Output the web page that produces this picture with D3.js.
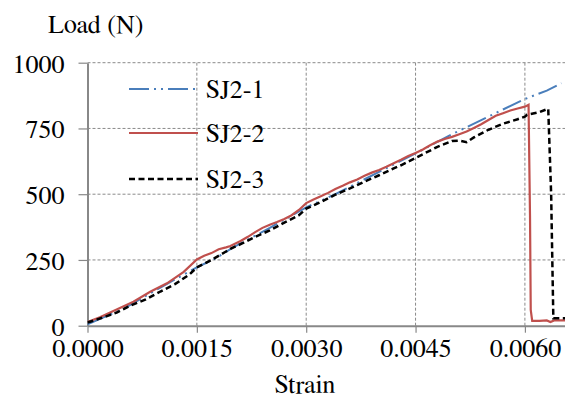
<!DOCTYPE html>
<html>
<head>
<meta charset="utf-8">
<script src="https://cdn.jsdelivr.net/npm/d3@7"></script>
<style>
  body { margin: 0; background: #fff; }
</style>
</head>
<body>
<svg id="chart" width="565" height="399"></svg>
<script>
// strain, load (N)
const sj21 = [[0,5],[0.0005,65],[0.0010,145],[0.0015,222],[0.00175,255],[0.0020,298],[0.0025,372],[0.0030,450],
  [0.0034,500],[0.0040,585],[0.0045,655],[0.0050,728],[0.0055,795],[0.0057,822],[0.0060,862],[0.0063,894],[0.0065,922]];
const sj22 = [[0,14],[0.00017,32],[0.0004,62],[0.00063,91],[0.00086,129],[0.00109,161],[0.00132,205],[0.0015,252],
  [0.0016,266],[0.0017,276],[0.0018,291],[0.0019,298],[0.00196,303],[0.0021,322],[0.0022,338],[0.0023,356],
  [0.0024,372],[0.0025,384],[0.0026,394],[0.0027,406],[0.0028,420],[0.0029,440],[0.0030,466],[0.0031,480],
  [0.0032,492],[0.0033,505],[0.0034,520],[0.0035,532],[0.0036,545],[0.0037,556],[0.0038,570],[0.0039,582],
  [0.0040,592],[0.0041,604],[0.0042,618],[0.0043,631],[0.0044,645],[0.0045,657],[0.0046,670],[0.0047,686],
  [0.0048,700],[0.0049,710],[0.0050,718],[0.0051,728],[0.0052,738],[0.0053,752],[0.0054,766],[0.0055,782],
  [0.0056,798],[0.0057,808],[0.0058,818],[0.0059,826],[0.0060,833],[0.00605,840],[0.00607,420],[0.00608,60],
  [0.0061,18],[0.0062,18],[0.0063,20],[0.00635,14],[0.0064,20],[0.0066,20]];
const sj23 = [[0,12],[0.0002,30],[0.0004,50],[0.0006,78],[0.0008,100],[0.0010,130],[0.0012,158],[0.0014,195],
  [0.0015,222],[0.0017,250],[0.0019,282],[0.00196,292],[0.0021,310],[0.0023,338],[0.0025,362],[0.0027,392],
  [0.0029,420],[0.0030,445],[0.0032,470],[0.0034,498],[0.0036,522],[0.0038,548],[0.0040,572],[0.0042,598],
  [0.0043,610],[0.0045,638],[0.0047,666],[0.0048,680],[0.0050,702],[0.0051,704],[0.0052,698],[0.0053,716],
  [0.0055,745],[0.0057,768],[0.0059,785],[0.0060,795],[0.00603,802],[0.0062,812],[0.00632,825],[0.00636,500],
  [0.00639,28],[0.0065,28],[0.0066,28]];

const xTicks = [0, 0.0015, 0.0030, 0.0045, 0.0060];
const yTicks = [0, 250, 500, 750, 1000];
const seriesNames = ['SJ2-1', 'SJ2-2', 'SJ2-3'];

// FreeSerif is the serif face that reliably resolves here
const fontFamily = 'FreeSerif, "Liberation Serif", serif';

const svg = d3.select('#chart');
const plotLeft = 87.5, plotRight = 565, plotTop = 62.7, plotBottom = 325.7;

const xScale = d3.scaleLinear().domain([0, 0.00655]).range([plotLeft, plotRight]);
const yScale = d3.scaleLinear().domain([0, 1000]).range([plotBottom, plotTop]);

// grid
svg.append('g').selectAll('line')
  .data(yTicks.filter(d => d > 0))
  .join('line')
  .attr('x1', plotLeft).attr('x2', plotRight)
  .attr('y1', d => yScale(d)).attr('y2', d => yScale(d))
  .attr('stroke', '#8a8a8a').attr('stroke-width', 1).attr('stroke-dasharray', '3,2');

svg.append('g').selectAll('line')
  .data(xTicks.filter(d => d > 0))
  .join('line')
  .attr('x1', d => xScale(d)).attr('x2', d => xScale(d))
  .attr('y1', plotTop).attr('y2', plotBottom)
  .attr('stroke', '#8a8a8a').attr('stroke-width', 1).attr('stroke-dasharray', '3,2');

// axes
const xAxis = d3.axisBottom(xScale).tickValues(xTicks).tickSize(7).tickSizeOuter(0)
  .tickFormat(d3.format('.4f'));
const yAxis = d3.axisLeft(yScale).tickValues(yTicks).tickSize(9).tickSizeOuter(0)
  .tickFormat(d3.format('d'));

const gx = svg.append('g').attr('transform', `translate(0,${plotBottom})`).call(xAxis);
const gy = svg.append('g').attr('transform', `translate(${plotLeft},0)`).call(yAxis);

[gx, gy].forEach(g => {
  g.attr('font-family', fontFamily).attr('font-size', 26);
  g.select('.domain').attr('stroke', '#888').attr('stroke-width', 2);
  g.selectAll('.tick line').attr('stroke', '#888').attr('stroke-width', 1.2);
  g.selectAll('.tick text').attr('fill', '#000');
});
gx.selectAll('.tick text').attr('dy', null).attr('y', 31.5);
gy.selectAll('.tick text').attr('dy', null).attr('x', -23).attr('y', 9.5);

// lines
svg.append('clipPath').attr('id', 'clip')
  .append('rect').attr('x', plotLeft).attr('y', 0).attr('width', plotRight - plotLeft).attr('height', plotBottom + 2);

const line = d3.line().x(d => xScale(d[0])).y(d => yScale(d[1]));
const plot = svg.append('g').attr('clip-path', 'url(#clip)');

const styles = [
  { color: '#4a7ebb', width: 2, dash: '20,5,2,5,2,5' },
  { color: '#c0504d', width: 2.2, dash: null },
  { color: '#000', width: 2.5, dash: '6,3.5' }
];
[sj21, sj22, sj23].forEach((s, i) => {
  plot.append('path').datum(s)
    .attr('d', line)
    .attr('fill', 'none')
    .attr('stroke', styles[i].color)
    .attr('stroke-width', styles[i].width)
    .attr('stroke-dasharray', styles[i].dash);
});

// legend
const legendY = [89, 133, 179];
const legend = svg.append('g').attr('font-family', fontFamily).attr('font-size', 26);
seriesNames.forEach((name, i) => {
  legend.append('line')
    .attr('x1', 129).attr('x2', 198).attr('y1', legendY[i]).attr('y2', legendY[i])
    .attr('stroke', styles[i].color)
    .attr('stroke-width', styles[i].width)
    .attr('stroke-dasharray', styles[i].dash);
  legend.append('text').attr('x', 206).attr('y', legendY[i] + 9).text(name);
});

// titles
svg.append('text').attr('x', 48).attr('y', 33)
  .attr('font-family', fontFamily).attr('font-size', 26).text('Load (N)');
svg.append('text').attr('x', 305).attr('y', 393).attr('text-anchor', 'middle')
  .attr('font-family', fontFamily).attr('font-size', 26).text('Strain');
</script>
</body>
</html>
